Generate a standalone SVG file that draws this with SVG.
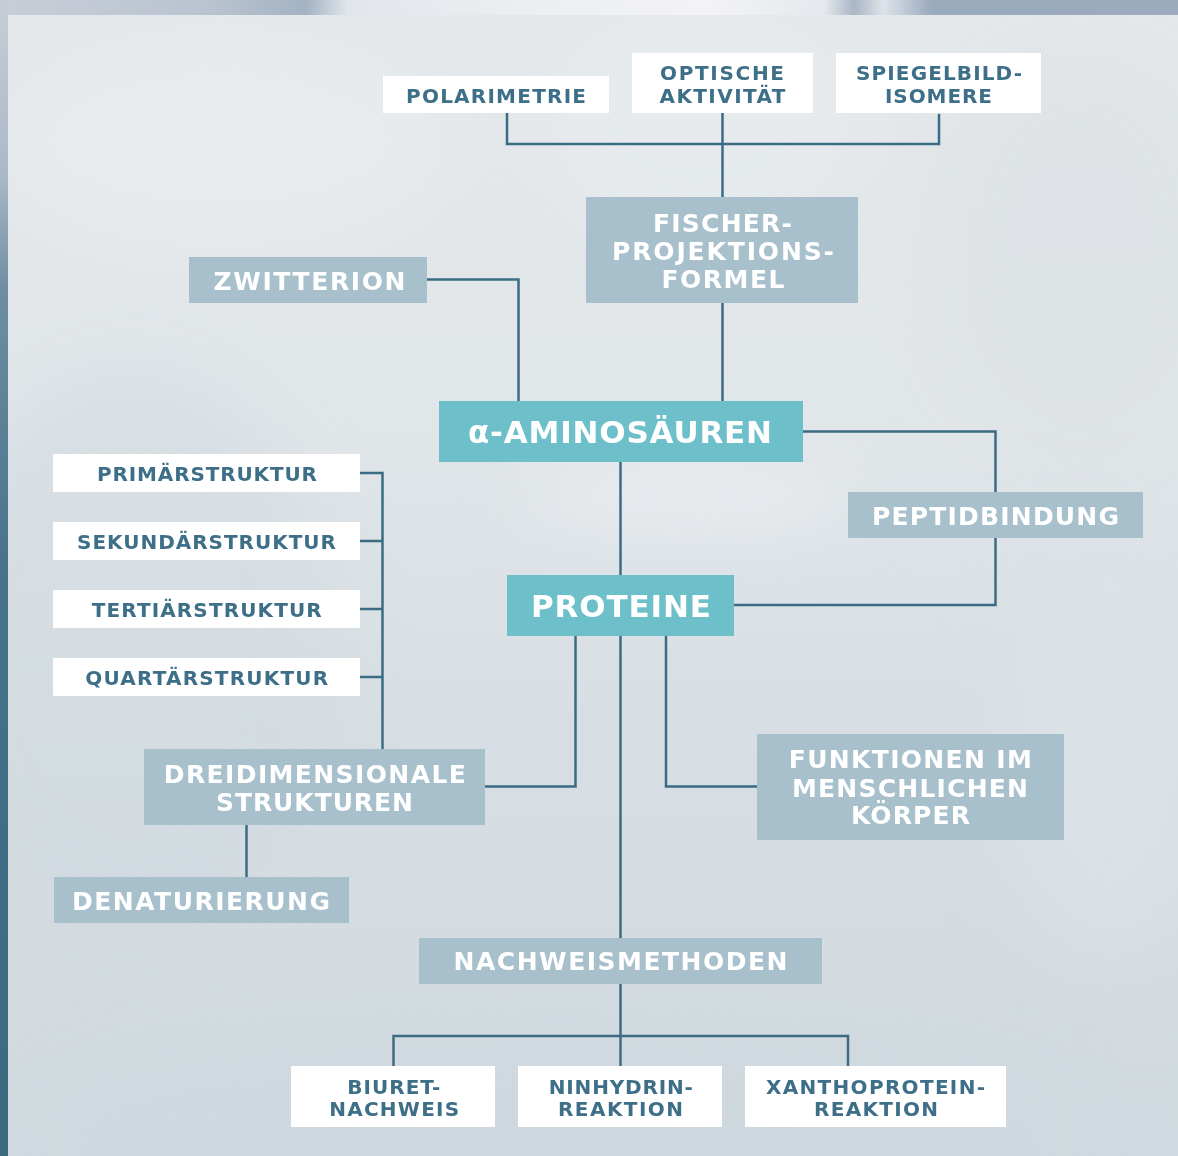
<svg xmlns="http://www.w3.org/2000/svg" width="1178" height="1156" viewBox="0 0 1178 1156">
  <defs>
    <style>
      .w rect { fill: #ffffff; }
      .b rect { fill: #a7c0cc; }
      .t rect { fill: #6dbfca; }
      text { font-family: "DejaVu Sans", "Open Sans", sans-serif; font-weight: 700; text-anchor: middle; }
      .w text { fill: #3e6f88; font-size: 20px; }
      .b text { fill: #ffffff; font-size: 25px; }
      .t text { fill: #ffffff; font-size: 31px; }
      #connectors path { fill: none; stroke: #3c6c84; stroke-width: 2.5; stroke-linejoin: miter; stroke-linecap: butt; }
    </style>
    <linearGradient id="panelGrad" x1="0" y1="0" x2="0" y2="1">
      <stop offset="0" stop-color="#e4e8eb"/>
      <stop offset="0.35" stop-color="#e1e6e9"/>
      <stop offset="0.6" stop-color="#d8dfe4"/>
      <stop offset="1" stop-color="#d0d9df"/>
    </linearGradient>
    <linearGradient id="topStrip" x1="0" y1="0" x2="1" y2="0">
      <stop offset="0" stop-color="#c8ced8"/>
      <stop offset="0.18" stop-color="#b9c3cf"/>
      <stop offset="0.26" stop-color="#a3b2c3"/>
      <stop offset="0.295" stop-color="#e2e6eb"/>
      <stop offset="0.45" stop-color="#eceef1"/>
      <stop offset="0.6" stop-color="#f3f3f5"/>
      <stop offset="0.7" stop-color="#e5e8ed"/>
      <stop offset="0.725" stop-color="#a9b6c6"/>
      <stop offset="0.75" stop-color="#dfe3e9"/>
      <stop offset="0.79" stop-color="#9aabbe"/>
      <stop offset="1" stop-color="#9cabbd"/>
    </linearGradient>
    <linearGradient id="leftStrip" x1="0" y1="0" x2="0" y2="1">
      <stop offset="0" stop-color="#c6cdd7"/>
      <stop offset="0.15" stop-color="#abb9c7"/>
      <stop offset="0.25" stop-color="#6f8ea3"/>
      <stop offset="0.5" stop-color="#46728a"/>
      <stop offset="1" stop-color="#3a6980"/>
    </linearGradient>
    <filter id="soft" x="-50%" y="-50%" width="200%" height="200%">
      <feGaussianBlur stdDeviation="35"/>
    </filter>
    <clipPath id="panelClip">
      <rect x="8" y="15" width="1170" height="1141"/>
    </clipPath>
  </defs>

  <!-- photo backdrop: frame strips and hazy panel -->
  <g id="background">
    <rect x="0" y="0" width="1178" height="15" fill="url(#topStrip)"/>
    <rect x="0" y="0" width="8" height="1156" fill="url(#leftStrip)"/>
    <rect x="8" y="15" width="1170" height="1141" fill="url(#panelGrad)"/>
    <g clip-path="url(#panelClip)" filter="url(#soft)">
      <ellipse cx="220" cy="140" rx="230" ry="110" fill="#e8ecef" opacity="0.7"/>
      <ellipse cx="700" cy="120" rx="160" ry="120" fill="#e8ecef" opacity="0.6"/>
      <ellipse cx="1080" cy="250" rx="150" ry="200" fill="#dce1e5" opacity="0.6"/>
      <ellipse cx="690" cy="495" rx="170" ry="35" fill="#eceff2" opacity="0.8"/>
      <ellipse cx="130" cy="650" rx="200" ry="280" fill="#d0d9e0" opacity="0.5"/>
      <ellipse cx="1110" cy="760" rx="110" ry="200" fill="#dde3e7" opacity="0.7"/>
      <ellipse cx="560" cy="1120" rx="500" ry="80" fill="#cdd7de" opacity="0.5"/>
    </g>
  </g>

  <!-- connectors drawn beneath the boxes -->
  <g id="connectors">
    <path d="M507 113 V144 H939 V114"/>
    <path d="M722.5 113 V197"/>
    <path d="M427 279.5 H518.5 V401"/>
    <path d="M722.5 303 V401"/>
    <path d="M803 431.5 H995.5 V492"/>
    <path d="M995.5 538 V605 H734"/>
    <path d="M620.5 462 V575"/>
    <path d="M620.5 636 V938"/>
    <path d="M575.5 636 V786.5 H485"/>
    <path d="M666 636 V786.5 H757"/>
    <path d="M360 473 H382.5 M360 541 H382.5 M360 609 H382.5 M360 677 H382.5"/>
    <path d="M382.5 471.8 V749"/>
    <path d="M246.5 825 V877"/>
    <path d="M620.5 984 V1066"/>
    <path d="M393.5 1066 V1036 H848 V1066"/>
  </g>

  <!-- top row -->
  <g id="polarimetrie" class="w">
    <rect x="383" y="76" width="226" height="37"/>
    <text x="496" y="102.5" textLength="180" lengthAdjust="spacing">POLARIMETRIE</text>
  </g>
  <g id="optische-aktivitaet" class="w">
    <rect x="632" y="53" width="181" height="60"/>
    <text x="722" y="80" textLength="124" lengthAdjust="spacing">OPTISCHE</text>
    <text x="722.5" y="102.5" textLength="126" lengthAdjust="spacing">AKTIVITÄT</text>
  </g>
  <g id="spiegelbild-isomere" class="w">
    <rect x="836" y="53" width="205" height="60"/>
    <text x="939" y="80" textLength="166" lengthAdjust="spacing">SPIEGELBILD-</text>
    <text x="938.5" y="102.5" textLength="107" lengthAdjust="spacing">ISOMERE</text>
  </g>

  <g id="fischer" class="b">
    <rect x="586" y="197" width="272" height="106"/>
    <text x="722.5" y="232" textLength="139" lengthAdjust="spacing">FISCHER-</text>
    <text x="723" y="260" textLength="222" lengthAdjust="spacing">PROJEKTIONS-</text>
    <text x="723" y="288" textLength="123" lengthAdjust="spacing">FORMEL</text>
  </g>
  <g id="zwitterion" class="b">
    <rect x="189" y="257" width="238" height="46"/>
    <text x="309.5" y="290" textLength="192" lengthAdjust="spacing">ZWITTERION</text>
  </g>

  <g id="aminosaeuren" class="t">
    <rect x="439" y="401" width="364" height="61"/>
    <text x="620" y="442.5" textLength="304" lengthAdjust="spacing">α-AMINOSÄUREN</text>
  </g>
  <g id="peptidbindung" class="b">
    <rect x="848" y="492" width="295" height="46"/>
    <text x="995.5" y="524.5" textLength="247" lengthAdjust="spacing">PEPTIDBINDUNG</text>
  </g>
  <g id="proteine" class="t">
    <rect x="507" y="575" width="227" height="61"/>
    <text x="621" y="616.5" textLength="180" lengthAdjust="spacing">PROTEINE</text>
  </g>

  <!-- structure levels -->
  <g id="primaerstruktur" class="w">
    <rect x="53" y="454" width="307" height="38"/>
    <text x="207" y="480.5" textLength="220" lengthAdjust="spacing">PRIMÄRSTRUKTUR</text>
  </g>
  <g id="sekundaerstruktur" class="w">
    <rect x="53" y="522" width="307" height="38"/>
    <text x="206.5" y="548.8" textLength="259" lengthAdjust="spacing">SEKUNDÄRSTRUKTUR</text>
  </g>
  <g id="tertiaerstruktur" class="w">
    <rect x="53" y="590" width="307" height="38"/>
    <text x="206.7" y="616.7" textLength="230" lengthAdjust="spacing">TERTIÄRSTRUKTUR</text>
  </g>
  <g id="quartaerstruktur" class="w">
    <rect x="53" y="658" width="307" height="38"/>
    <text x="206.7" y="685" textLength="243" lengthAdjust="spacing">QUARTÄRSTRUKTUR</text>
  </g>

  <g id="dreidimensionale-strukturen" class="b">
    <rect x="144" y="749" width="341" height="76"/>
    <text x="314.8" y="782.7" textLength="302" lengthAdjust="spacing">DREIDIMENSIONALE</text>
    <text x="314.5" y="811" textLength="197" lengthAdjust="spacing">STRUKTUREN</text>
  </g>
  <g id="denaturierung" class="b">
    <rect x="54" y="877" width="295" height="46"/>
    <text x="201" y="910" textLength="258" lengthAdjust="spacing">DENATURIERUNG</text>
  </g>
  <g id="funktionen" class="b">
    <rect x="757" y="734" width="307" height="106"/>
    <text x="910.3" y="768" textLength="243" lengthAdjust="spacing">FUNKTIONEN IM</text>
    <text x="910" y="796.6" textLength="236" lengthAdjust="spacing">MENSCHLICHEN</text>
    <text x="910.5" y="824" textLength="119" lengthAdjust="spacing">KÖRPER</text>
  </g>

  <g id="nachweismethoden" class="b">
    <rect x="419" y="938" width="403" height="46"/>
    <text x="620.5" y="970" textLength="334" lengthAdjust="spacing">NACHWEISMETHODEN</text>
  </g>

  <!-- detection methods -->
  <g id="biuret" class="w">
    <rect x="291" y="1066" width="204" height="61"/>
    <text x="393.8" y="1093.5" textLength="93" lengthAdjust="spacing">BIURET-</text>
    <text x="394.2" y="1116" textLength="130" lengthAdjust="spacing">NACHWEIS</text>
  </g>
  <g id="ninhydrin" class="w">
    <rect x="518" y="1066" width="204" height="61"/>
    <text x="620.8" y="1093.5" textLength="144" lengthAdjust="spacing">NINHYDRIN-</text>
    <text x="620.5" y="1116" textLength="125" lengthAdjust="spacing">REAKTION</text>
  </g>
  <g id="xanthoprotein" class="w">
    <rect x="745" y="1066" width="261" height="61"/>
    <text x="875.5" y="1093.5" textLength="219" lengthAdjust="spacing">XANTHOPROTEIN-</text>
    <text x="876" y="1116" textLength="124" lengthAdjust="spacing">REAKTION</text>
  </g>
</svg>
